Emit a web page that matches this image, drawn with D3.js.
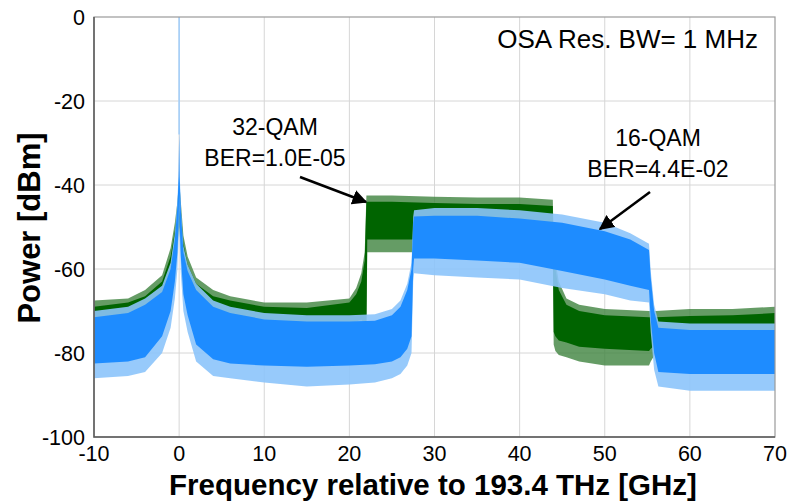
<!DOCTYPE html>
<html><head><meta charset="utf-8">
<script src="https://cdn.jsdelivr.net/npm/d3@7"></script>
<style>
html,body{margin:0;padding:0;background:#fff;}
svg{display:block;font-family:"Liberation Sans",Arial,sans-serif;}
</style></head><body>
<svg id="chart" width="787" height="503"></svg>
<script>
// ---------- data ----------
const xTicks = [-10, 0, 10, 20, 30, 40, 50, 60, 70];
const yTicks = [0, -20, -40, -60, -80, -100];

// 32-QAM trace (green): frequency [GHz], dense-core top/bottom, spike top/bottom [dBm]
const qam32Freq   = [-10, -6, -4, -2, -1, -0.5, -0.2, 0, 0.2, 0.5, 1, 2, 4, 6, 10, 15, 20, 20.8, 21.4, 21.8, 22.0, 22.1, 25, 30, 35, 40, 43.9, 44.0, 44.2, 44.6, 45.5, 47, 50, 55.2, 55.4, 56, 60, 65, 70];
const qam32Top    = [-69, -68, -66.5, -63, -57, -51, -46, -41, -46, -54, -59, -63.5, -66.5, -67.5, -69, -69.3, -68, -66, -63, -58, -44, -44, -44, -44.3, -44.5, -44.5, -45, -56, -60, -65, -68.5, -70, -71, -71.5, -71.5, -71.5, -71.2, -71, -70.5];
const qam32Bottom = [-74, -73.5, -72, -69, -64, -58, -53, -48, -53, -61, -66, -69.5, -72, -73, -73.5, -73.5, -73, -72.5, -72, -73, -74, -53, -53, -53, -53.5, -54, -54, -75, -76, -77, -77.5, -78.5, -79, -79.5, -79, -78, -77, -77, -77];
const qam32SpkTop = [-67.5, -67, -65, -61.5, -55, -49, -44, -39, -44, -52, -57, -62, -65, -66.5, -68, -68, -67, -64.5, -61, -56, -42.5, -42.5, -42.5, -42.8, -43, -43, -43.5, -54, -58, -63, -67, -68.5, -69.5, -70, -70, -70, -69.5, -69.5, -69];
const qam32SpkBot = [-76, -75.5, -74, -71, -66, -60, -55, -50, -55, -63, -68, -71.5, -74, -75, -75.5, -75.5, -75, -74.5, -74, -75, -76, -56, -56, -56, -56, -56.5, -56.5, -78, -79.5, -80.5, -81, -82, -83, -83, -82, -80, -79, -79, -79];

// 16-QAM trace (blue)
const qam16Freq   = [-10, -6, -4, -2, -1, -0.5, -0.2, -0.05, 0, 0.05, 0.2, 0.5, 1, 2, 4, 6, 10, 15, 20, 23, 25, 26, 26.8, 27.3, 27.5, 27.6, 30, 35, 40, 45, 50, 53, 55.2, 55.4, 55.8, 56.3, 60, 65, 70];
const qam16Top    = [-71.5, -70.5, -68.5, -65.5, -60, -53, -45, -38, -27, -38, -46, -56, -60.5, -65, -69, -70.5, -72, -72.5, -72.5, -72.3, -71, -69, -65, -60, -49, -47.5, -47.3, -47.3, -48, -49, -51, -53, -55.5, -62, -70, -74, -74.5, -74.5, -74.5];
const qam16Bottom = [-82.5, -82, -81, -76, -70, -63, -56, -48, -42, -48, -57, -66, -71, -78, -81.5, -82.5, -83, -83.3, -83, -82.7, -82, -81, -79, -76, -60, -57.5, -57.5, -58, -58.5, -60.5, -62.5, -64, -65, -72, -80, -84.5, -85, -85, -85];
const qam16SpkTop = [-70, -69, -67, -64, -58.5, -51.5, -43.5, -36.5, -27, -36.5, -44.5, -54.5, -59, -63.5, -67.5, -69, -70.5, -71, -71, -70.8, -69.5, -67.5, -63.5, -58.5, -47.5, -46, -45.5, -45.5, -46, -47, -49, -51.5, -54, -60.5, -68.5, -72.5, -73, -73, -73];
const qam16SpkBot = [-86, -85.5, -84.5, -80, -74, -67, -60, -52, -46, -52, -61, -70, -75, -82, -85.5, -86, -87, -88, -87.5, -87, -86, -85, -83, -80, -63, -61, -61.5, -62, -62.5, -64.5, -66, -67.5, -68, -75, -84, -88, -89, -89, -89];
// narrow carrier line at 0 GHz
const carrierFreq = [0];
const carrierPeak = [0];

// annotations
const noteLines32 = ["32-QAM", "BER=1.0E-05"];
const noteLines16 = ["16-QAM", "BER=4.4E-02"];
const resText = "OSA Res. BW= 1 MHz";
const xTitle = "Frequency relative to 193.4 THz [GHz]";
const yTitle = "Power [dBm]";

// ---------- drawing ----------
const W = 787, H = 503;
const m = {left: 94, top: 17, right: 12, bottom: 66};
const pw = W - m.left - m.right, ph = H - m.top - m.bottom;
const svg = d3.select("#chart");
const x = d3.scaleLinear().domain([-10, 70]).range([m.left, m.left + pw]);
const y = d3.scaleLinear().domain([-100, 0]).range([m.top + ph, m.top]);

const defs = svg.append("defs");
defs.append("clipPath").attr("id", "clip").append("rect")
  .attr("x", m.left).attr("y", m.top).attr("width", pw).attr("height", ph);
defs.append("marker").attr("id", "arr").attr("viewBox", "0 0 10 10")
  .attr("refX", 9).attr("refY", 5).attr("markerWidth", 6).attr("markerHeight", 6)
  .attr("markerUnits", "strokeWidth").attr("orient", "auto")
  .append("path").attr("d", "M0,0 L10,5 L0,10 z").attr("fill", "#000");

// grid
const grid = svg.append("g");
grid.selectAll("line.gx").data(xTicks.slice(1, -1)).join("line")
  .attr("x1", d => x(d)).attr("x2", d => x(d)).attr("y1", m.top).attr("y2", m.top + ph)
  .attr("stroke", "#d6d6d6").attr("stroke-width", 1);
grid.selectAll("line.gy").data(yTicks.slice(1, -1)).join("line")
  .attr("y1", d => y(d)).attr("y2", d => y(d)).attr("x1", m.left).attr("x2", m.left + pw)
  .attr("stroke", "#d6d6d6").attr("stroke-width", 1);

function band(freq, hi, lo) {
  const pts = freq.map((f, i) => ({f, hi: hi[i], lo: lo[i]}));
  return d3.area().x(d => x(d.f)).y0(d => y(d.lo)).y1(d => y(d.hi))(pts);
}
const plot = svg.append("g").attr("clip-path", "url(#clip)");
// green 32-QAM
plot.append("path").attr("d", band(qam32Freq, qam32SpkTop, qam32SpkBot)).attr("fill", "#3f833f").attr("opacity", 0.8);
plot.append("path").attr("d", band(qam32Freq, qam32Top, qam32Bottom)).attr("fill", "#006400");
// blue 16-QAM
plot.append("path").attr("d", band(qam16Freq, qam16SpkTop, qam16SpkBot)).attr("fill", "#8cc4fb").attr("opacity", 0.9);
plot.append("path").attr("d", band(qam16Freq, qam16Top, qam16Bottom)).attr("fill", "#1e8cff");
// carrier line
plot.selectAll("line.car").data(carrierFreq).join("line")
  .attr("x1", d => x(d)).attr("x2", d => x(d))
  .attr("y1", (d, i) => y(carrierPeak[i])).attr("y2", y(-28))
  .attr("stroke", "#9fcdfb").attr("stroke-width", 1.5);

// frame
svg.append("rect").attr("x", m.left).attr("y", m.top).attr("width", pw).attr("height", ph)
  .attr("fill", "none").attr("stroke", "#9a9a9a").attr("stroke-width", 1.2);
svg.append("path").attr("d", `M${m.left},${m.top}V${m.top + ph}H${m.left + pw}`)
  .attr("fill", "none").attr("stroke", "#5a5a5a").attr("stroke-width", 1.5);

// axes labels
svg.append("g").selectAll("text").data(yTicks).join("text")
  .attr("x", m.left - 9).attr("y", d => y(d)).attr("dy", "0.35em")
  .attr("text-anchor", "end").attr("font-size", 21.5).attr("fill", "#000").text(d => d);
svg.append("g").selectAll("text").data(xTicks).join("text")
  .attr("x", d => x(d)).attr("y", 461)
  .attr("text-anchor", "middle").attr("font-size", 21.5).attr("fill", "#000").text(d => d);

svg.append("text").attr("x", 433).attr("y", 495).attr("text-anchor", "middle")
  .attr("font-size", 29.5).attr("font-weight", "bold").text(xTitle);
svg.append("text").attr("transform", "translate(40,228) rotate(-90)").attr("text-anchor", "middle")
  .attr("font-size", 31).attr("font-weight", "bold").text(yTitle);

// annotations
svg.append("text").attr("x", 758).attr("y", 48).attr("text-anchor", "end")
  .attr("font-size", 26).text(resText);
svg.append("g").selectAll("text").data(noteLines32).join("text")
  .attr("x", 275).attr("y", (d, i) => 135 + i * 31).attr("text-anchor", "middle")
  .attr("font-size", 23).text(d => d);
svg.append("g").selectAll("text").data(noteLines16).join("text")
  .attr("x", 658).attr("y", (d, i) => 146 + i * 31).attr("text-anchor", "middle")
  .attr("font-size", 23).text(d => d);
svg.append("line").attr("x1", 300).attr("y1", 177).attr("x2", 366).attr("y2", 202)
  .attr("stroke", "#000").attr("stroke-width", 2.5).attr("marker-end", "url(#arr)");
svg.append("line").attr("x1", 650).attr("y1", 192).attr("x2", 600).attr("y2", 229)
  .attr("stroke", "#000").attr("stroke-width", 2.5).attr("marker-end", "url(#arr)");
</script>
</body></html>
